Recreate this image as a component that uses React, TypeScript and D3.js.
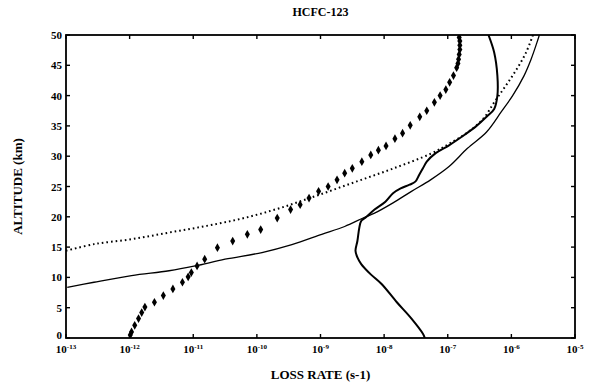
import React, { useEffect, useRef } from 'react';
import * as d3 from 'd3';

// altitude (km) and log10 of loss rate (s-1)
const diamondAlt = [0.5, 1.0, 2.1, 3.2, 4.2, 5.1, 5.9, 7.0, 8.1, 9.2, 10.1, 10.8, 11.9, 13.0, 14.9, 16.0, 17.1, 17.9, 19.8, 21.2, 22.0, 23.1, 24.2, 25.0, 26.1, 27.2, 28.0, 29.1, 30.2, 31.0, 31.7, 32.9, 33.8, 35.1, 36.5, 37.5, 38.9, 40.0, 41.0, 42.2, 43.3, 44.6, 45.3, 46.0, 46.8, 47.6, 48.3, 49.0, 49.6];
const diamondLog = [-11.99, -11.97, -11.92, -11.86, -11.81, -11.76, -11.61, -11.47, -11.32, -11.17, -11.08, -11.03, -10.94, -10.82, -10.62, -10.38, -10.15, -9.94, -9.68, -9.47, -9.32, -9.18, -9.03, -8.88, -8.74, -8.62, -8.5, -8.35, -8.21, -8.09, -7.97, -7.83, -7.71, -7.59, -7.44, -7.33, -7.21, -7.12, -7.03, -6.97, -6.91, -6.86, -6.84, -6.83, -6.82, -6.81, -6.81, -6.81, -6.82];

const dottedAlt = [14.4, 15.5, 16.3, 17.4, 18.5, 19.8, 21.5, 23.6, 25.8, 28.0, 30.4, 32.1, 34.0, 36.2, 38.9, 41.6, 44.3, 47.1, 50];
const dottedLog = [-13.0, -12.55, -11.97, -11.38, -10.79, -10.2, -9.62, -9.03, -8.44, -7.85, -7.27, -6.97, -6.68, -6.44, -6.27, -6.09, -5.92, -5.77, -5.66];

const thickAlt = [50.0, 47.1, 43.3, 40.0, 37.8, 36.5, 34.8, 33.5, 31.8, 30.5, 29.1, 28.0, 26.9, 25.8, 25.3, 24.7, 23.9, 22.5, 21.2, 19.8, 19.3, 18.2, 16.0, 14.4, 13.3, 12.2, 10.5, 8.9, 5.9, 3.2, 0.7, 0];
const thickLog = [-6.36, -6.27, -6.22, -6.22, -6.27, -6.39, -6.57, -6.74, -6.98, -7.19, -7.33, -7.39, -7.45, -7.51, -7.6, -7.74, -7.86, -7.98, -8.15, -8.3, -8.36, -8.39, -8.42, -8.45, -8.42, -8.36, -8.21, -8.04, -7.8, -7.57, -7.39, -7.36];

const thinAlt = [8.35, 9.2, 10.3, 11.1, 11.9, 13.0, 14.1, 15.4, 17.1, 18.4, 19.8, 20.6, 22.3, 24.2, 26.1, 28.3, 31.3, 34.0, 37.3, 40.0, 43.3, 46.0, 48.7, 50];
const thinLog = [-12.98, -12.56, -11.97, -11.38, -10.97, -10.5, -9.92, -9.45, -8.98, -8.62, -8.33, -8.15, -7.86, -7.57, -7.27, -6.98, -6.69, -6.39, -6.16, -5.98, -5.8, -5.69, -5.6, -5.56];

const xTickExp = [-13, -12, -11, -10, -9, -8, -7, -6, -5];
const yTicks = [0, 5, 10, 15, 20, 25, 30, 35, 40, 45, 50];

const W = 590;
const H = 385;
const margin = { top: 35, right: 15, bottom: 47, left: 66 };
const font = '"Liberation Serif", "DejaVu Serif", serif';

const App: React.FC = () => {
  const svgRef = useRef<SVGSVGElement | null>(null);

  useEffect(() => {
    const width = W - margin.left - margin.right;
    const height = H - margin.top - margin.bottom;

    const root = d3.select(svgRef.current);
    root.selectAll('*').remove();

    const svg = root.append('g').attr('transform', `translate(${margin.left}, ${margin.top})`);

    const x = d3.scaleLog().domain([1e-13, 1e-5]).range([0, width]);
    const y = d3.scaleLinear().domain([0, 50]).range([height, 0]);

    const toPts = (alt: number[], lg: number[]) => alt.map((a, i) => [Math.pow(10, lg[i]), a] as [number, number]);

    const line = d3
      .line<[number, number]>()
      .x((d) => x(d[0]))
      .y((d) => y(d[1]))
      .curve(d3.curveCatmullRom);

    // frame
    svg.append('rect').attr('width', width).attr('height', height).attr('fill', 'none').attr('stroke', '#000').attr('stroke-width', 1.8);

    // x ticks (inward, bottom and top)
    xTickExp.forEach((e) => {
      const px = x(Math.pow(10, e));
      svg.append('line').attr('x1', px).attr('x2', px).attr('y1', height).attr('y2', height - 4).attr('stroke', '#000').attr('stroke-width', 1.4);
      svg.append('line').attr('x1', px).attr('x2', px).attr('y1', 0).attr('y2', 4).attr('stroke', '#000').attr('stroke-width', 1.4);
      const t = svg
        .append('text')
        .attr('x', px)
        .attr('y', height + 15)
        .attr('text-anchor', 'middle')
        .style('font-family', font)
        .style('font-weight', 'bold')
        .style('font-size', '11px');
      t.append('tspan').text('10');
      t.append('tspan').attr('dy', -4).style('font-size', '7px').text(String(e));
    });

    // y ticks (inward, left and right)
    yTicks.forEach((v) => {
      const py = y(v);
      svg.append('line').attr('x1', 0).attr('x2', 4).attr('y1', py).attr('y2', py).attr('stroke', '#000').attr('stroke-width', 1.4);
      svg.append('line').attr('x1', width).attr('x2', width - 4).attr('y1', py).attr('y2', py).attr('stroke', '#000').attr('stroke-width', 1.4);
      svg
        .append('text')
        .attr('x', -4)
        .attr('y', v === 0 ? py + 1 : py + 4)
        .attr('text-anchor', 'end')
        .style('font-family', font)
        .style('font-weight', 'bold')
        .style('font-size', '11px')
        .text(v);
    });

    const clip = svg.append('clipPath').attr('id', 'plotclip');
    clip.append('rect').attr('width', width).attr('height', height);
    const plot = svg.append('g').attr('clip-path', 'url(#plotclip)');

    // fine dotted curve
    plot
      .append('path')
      .attr('d', line(toPts(dottedAlt, dottedLog)))
      .attr('fill', 'none')
      .attr('stroke', '#000')
      .attr('stroke-width', 2)
      .attr('stroke-dasharray', '1.6,3');

    // thin solid curve
    plot
      .append('path')
      .attr('d', line(toPts(thinAlt, thinLog)))
      .attr('fill', 'none')
      .attr('stroke', '#000')
      .attr('stroke-width', 1.3);

    // thick solid curve
    plot
      .append('path')
      .attr('d', line(toPts(thickAlt, thickLog)))
      .attr('fill', 'none')
      .attr('stroke', '#000')
      .attr('stroke-width', 2);

    // diamond markers
    const diamond = d3.symbol().type(d3.symbolDiamond).size(22);
    plot
      .selectAll('path.dia')
      .data(toPts(diamondAlt, diamondLog))
      .enter()
      .append('path')
      .attr('class', 'dia')
      .attr('d', diamond()!)
      .attr('transform', (d) => `translate(${x(d[0])}, ${y(d[1])})`)
      .attr('fill', '#000');

    // title
    root
      .append('text')
      .attr('x', margin.left + width / 2)
      .attr('y', 16)
      .attr('text-anchor', 'middle')
      .style('font-family', font)
      .style('font-weight', 'bold')
      .style('font-size', '12px')
      .text('HCFC-123');

    // x-axis label
    root
      .append('text')
      .attr('x', margin.left + width / 2)
      .attr('y', 379)
      .attr('text-anchor', 'middle')
      .style('font-family', font)
      .style('font-weight', 'bold')
      .style('font-size', '13px')
      .text('LOSS RATE (s-1)');

    // y-axis label
    root
      .append('text')
      .attr('transform', `translate(22, ${margin.top + height / 2}) rotate(-90)`)
      .attr('text-anchor', 'middle')
      .style('font-family', font)
      .style('font-weight', 'bold')
      .style('font-size', '13px')
      .text('ALTITUDE (km)');
  }, []);

  return <svg ref={svgRef} width={W} height={H} style={{ position: 'absolute', left: 0, top: 0, background: '#fff' }}></svg>;
};

export default App;
